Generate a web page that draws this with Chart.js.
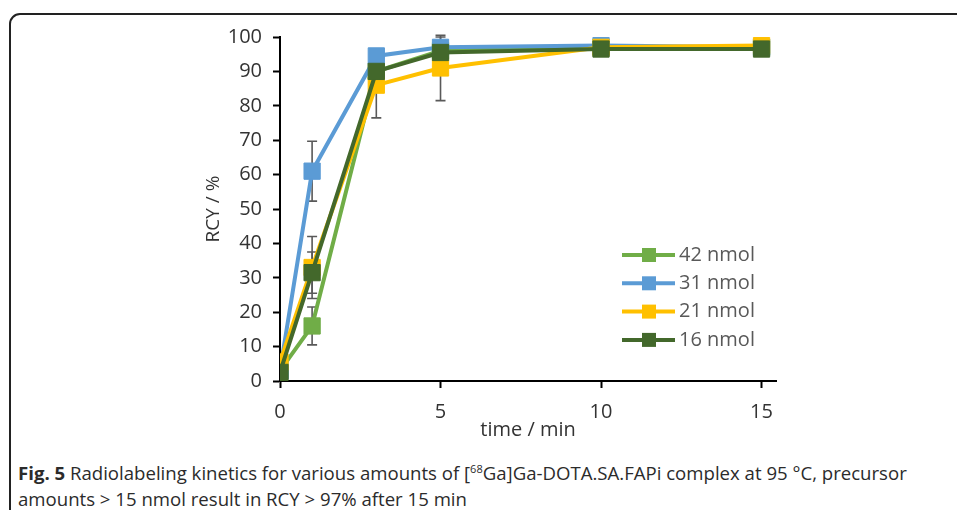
<!DOCTYPE html>
<html>
<head>
<meta charset="utf-8">
<script src="https://cdn.jsdelivr.net/npm/chart.js@4.4.1/dist/chart.umd.min.js"></script>
<style>
  html, body { margin: 0; padding: 0; background: #fff; width: 957px; height: 510px; overflow: hidden; }
  #frame { position: absolute; left: 9px; top: 13px; width: 1000px; height: 600px; border: 2px solid #222; border-radius: 11px; box-sizing: border-box; }
  #cap { position: absolute; left: 18px; top: 460px; font-family: 'Open Sans', sans-serif; font-size: 18.6px; line-height: 26px; color: #2b2b2b; white-space: nowrap; }
  #cap b { font-weight: 700; }
  #cap sup { font-size: 11px; vertical-align: 7px; line-height: 0; }
  #wrap { position: absolute; left: 0; top: 0; width: 957px; height: 510px; }
</style>
</head>
<body>
<div id="frame"></div>
<div id="cap"><b>Fig. 5</b> Radiolabeling kinetics for various amounts of [<sup>68</sup>Ga]Ga-DOTA.SA.FAPi complex at 95 °C, precursor<br>amounts &gt; 15 nmol result in RCY &gt; 97% after 15 min</div>
<div id="wrap"><canvas id="c" width="957" height="510"></canvas></div>
<script>
// ---- data ----
const TIMES = [0, 1, 3, 5, 10, 15];
const SERIES_LABELS = ['42 nmol', '31 nmol', '21 nmol', '16 nmol'];
const SERIES_COLORS = ['#70ad47', '#5b9bd5', '#ffc000', '#43682b'];
const RCY_42 = [3, 16, 90, 96, 97, 97];
const RCY_31 = [3, 61, 94.5, 97, 97.5, 97];
const RCY_21 = [5.5, 33, 86, 91, 97, 97.5];
const RCY_16 = [2.5, 31.5, 90, 95.5, 96.5, 96.5];
const ERR_42 = [0, 5.5, 0, 0, 0, 0];
const ERR_31 = [0, 8.7, 1, 3, 0, 0];
const ERR_21 = [0, 9, 9.5, 9.5, 0, 0];
const ERR_16 = [0, 6, 0, 0, 0, 0];
const X_TICKS = [0, 5, 10, 15];

const TEXT_GREY = '#333333';
const FONT = "'Open Sans', sans-serif";

const allValues = [RCY_42, RCY_31, RCY_21, RCY_16];
const allErrors = [ERR_42, ERR_31, ERR_21, ERR_16];

// error bars drawn under the lines and markers
const errorBars = {
  id: 'errorBars',
  beforeDatasetsDraw(chart) {
    const { ctx, scales: { x, y } } = chart;
    ctx.save();
    ctx.strokeStyle = '#595959';
    ctx.lineWidth = 1.6;
    allErrors.forEach((errs, si) => {
      errs.forEach((e, i) => {
        if (!e) return;
        const px = x.getPixelForValue(TIMES[i]);
        const top = y.getPixelForValue(allValues[si][i] + e);
        const bot = y.getPixelForValue(allValues[si][i] - e);
        ctx.beginPath();
        ctx.moveTo(px, top); ctx.lineTo(px, bot);
        ctx.moveTo(px - 5, top); ctx.lineTo(px + 5, top);
        ctx.moveTo(px - 5, bot); ctx.lineTo(px + 5, bot);
        ctx.stroke();
      });
    });
    ctx.restore();
  }
};

// legend sitting inside the plot, lower right
const insideLegend = {
  id: 'insideLegend',
  afterDraw(chart) {
    const { ctx, chartArea } = chart;
    const x0 = chartArea.right - 154, y0 = chartArea.bottom - 126, step = 28.3;
    ctx.save();
    ctx.font = '20px ' + FONT;
    ctx.textBaseline = 'middle';
    SERIES_LABELS.forEach((lab, i) => {
      const yy = y0 + i * step;
      ctx.strokeStyle = SERIES_COLORS[i];
      ctx.lineWidth = 4;
      ctx.beginPath(); ctx.moveTo(x0, yy); ctx.lineTo(x0 + 53, yy); ctx.stroke();
      ctx.fillStyle = SERIES_COLORS[i];
      ctx.fillRect(x0 + 20, yy - 7, 14, 14);
      ctx.fillStyle = '#595959';
      ctx.fillText(lab, x0 + 57, yy);
    });
    ctx.restore();
  }
};

new Chart(document.getElementById('c'), {
  type: 'line',
  data: {
    datasets: allValues.map((vals, i) => ({
      label: SERIES_LABELS[i],
      data: TIMES.map((t, k) => ({ x: t, y: vals[k] })),
      borderColor: SERIES_COLORS[i],
      backgroundColor: SERIES_COLORS[i],
      borderWidth: 4,
      pointStyle: 'rect',
      pointRadius: 11.5,
      pointBorderWidth: 1,
      pointBorderColor: SERIES_COLORS[i],
      tension: 0,
      order: 3 - i,
    }))
  },
  options: {
    responsive: false,
    animation: false,
    layout: { padding: { left: 202, top: 37, right: 181, bottom: 67 } },
    plugins: { legend: { display: false }, tooltip: { enabled: false } },
    scales: {
      x: {
        type: 'linear', min: 0, max: 15.45,
        afterFit: s => { s.height = 62; },
        afterBuildTicks: s => { s.ticks = X_TICKS.map(v => ({ value: v })); },
        border: { color: '#000', width: 2 },
        grid: { drawOnChartArea: false, tickLength: 7, tickColor: '#000', tickWidth: 2 },
        ticks: { color: TEXT_GREY, font: { family: FONT, size: 20 }, padding: 12 },
        title: { display: true, text: 'time / min', color: TEXT_GREY, font: { family: FONT, size: 20 }, padding: { top: 0, bottom: 1 } }
      },
      y: {
        min: 0, max: 100,
        afterFit: s => { s.width = 78; },
        border: { color: '#000', width: 2 },
        grid: { drawOnChartArea: false, tickLength: 7, tickColor: '#000', tickWidth: 2 },
        ticks: { stepSize: 10, color: TEXT_GREY, font: { family: FONT, size: 20 }, padding: 11 },
        title: { display: true, text: 'RCY / %', color: TEXT_GREY, font: { family: FONT, size: 19 }, padding: 0 }
      }
    }
  },
  plugins: [errorBars, insideLegend]
});
</script>
</body>
</html>
